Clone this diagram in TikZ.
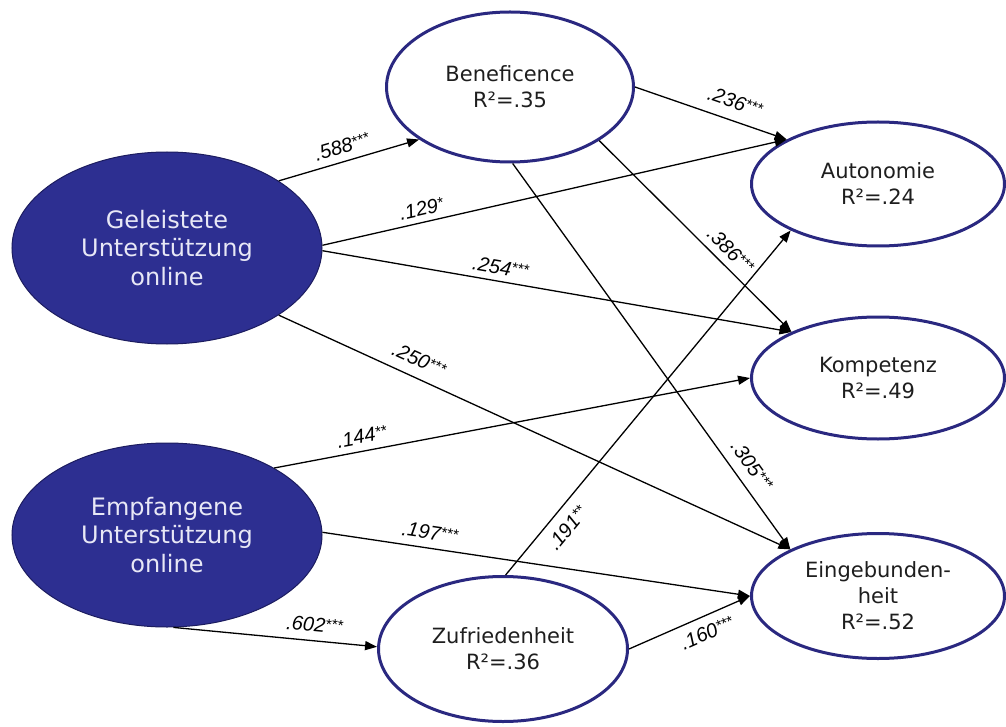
\documentclass[tikz,border=0pt]{standalone}
\usepackage{fontspec}
\setmainfont{DejaVu Sans}
\newfontfamily\labfont{Liberation Sans}
\usetikzlibrary{shapes.geometric,arrows.meta}

\definecolor{navyfill}{RGB}{45,47,145}
\definecolor{navyline}{RGB}{42,40,128}
\definecolor{darkline}{RGB}{28,28,95}
\definecolor{paletext}{RGB}{232,232,246}
\definecolor{inktext}{RGB}{30,30,30}

% significance stars set small and raised to cap height
\newcommand\sig[1]{\raisebox{3.5pt}{\fontsize{15}{15}\selectfont #1}}

\tikzset{
  latent/.style={ellipse, draw=navyline, line width=3pt, fill=white,
    text=inktext, inner sep=0pt, align=center,
    font=\fontsize{21}{26}\selectfont},
  exo/.style={ellipse, draw=darkline, line width=1pt, fill=navyfill,
    text=paletext, inner sep=0pt, align=center,
    font=\fontsize{24}{28.5}\selectfont},
  path/.style={line width=1.3pt, black,
    -{Triangle[length=12pt,width=9pt]}},
  coef/.style={font=\labfont\itshape\fontsize{20}{20}\selectfont,
    inner sep=3pt, sloped},
}

\begin{document}
\begin{tikzpicture}[x=1pt,y=-1pt]
  \useasboundingbox (0,0) rectangle (1006,727);
  \fill[white] (0,0) rectangle (1006,727);

  % exogenous predictors
  \node[exo, minimum width=310pt, minimum height=192pt] (gel) at (167,248)
    {Geleistete\\Unterstützung\\online};
  \node[exo, minimum width=310pt, minimum height=184pt] (emp) at (167,535)
    {Empfangene\\Unterstützung\\online};

  % mediators
  \node[latent, minimum width=247pt, minimum height=150pt] (ben) at (510,87)
    {Beneficence\\R²=.35};
  \node[latent, minimum width=249pt, minimum height=145pt] (zuf) at (503,649)
    {Zufriedenheit\\R²=.36};

  % outcomes
  \node[latent, minimum width=253pt, minimum height=124pt] (aut) at (878,184)
    {Autonomie\\R²=.24};
  \node[latent, minimum width=253pt, minimum height=122pt] (kom) at (878,378)
    {Kompetenz\\R²=.49};
  \node[latent, minimum width=253pt, minimum height=125pt] (ein) at (878,596)
    {Eingebunden-\\heit\\R²=.52};

  % paths from Geleistete Unterstützung
  \draw[path] (gel.31) -- (ben.210.5)
    node[coef, pos=0.48, above=4pt] {.588\sig{***}};
  \draw[path] (gel.1) -- (aut.154.4)
    node[coef, pos=0.22, above=3pt] {.129\sig{*}};
  \draw[path] (gel.-1) -- (kom.152.4)
    node[coef, pos=0.375, above=3pt] {.254\sig{***}};
  \draw[path] (gel.-31.8) -- (ein.152.4)
    node[coef, pos=0.26, above=7pt] {.250\sig{***}};

  % paths from Beneficence
  \draw[path] (ben.0) -- (aut.154.4)
    node[coef, pos=0.62, above=8pt] {.236\sig{***}};
  \draw[path] (ben.-31.9) -- (kom.152.4)
    node[coef, pos=0.63, above=4pt] {.386\sig{***}};
  \draw[path] (ben.-88) -- (ein.152.4)
    node[coef, pos=0.81, above=7pt] {.305\sig{***}};

  % paths from Empfangene Unterstützung
  \draw[path] (emp.32.8) -- (kom.180)
    node[coef, pos=0.19, above=4pt] {.144\sig{**}};
  \draw[path] (emp.1.5) -- (ein.180)
    node[coef, pos=0.246, above=5pt] {.197\sig{***}};
  \draw[path] (emp.-86) -- (zuf.179)
    node[coef, pos=0.686, above=5pt] {.602\sig{***}};

  % paths from Zufriedenheit
  \draw[path] (zuf.88) -- (aut.208.6)
    node[coef, pos=0.169, below=7pt] {.191\sig{**}};
  \draw[path] (zuf.0) -- (ein.180)
    node[coef, pos=0.59, below=6pt] {.160\sig{***}};
\end{tikzpicture}
\end{document}
